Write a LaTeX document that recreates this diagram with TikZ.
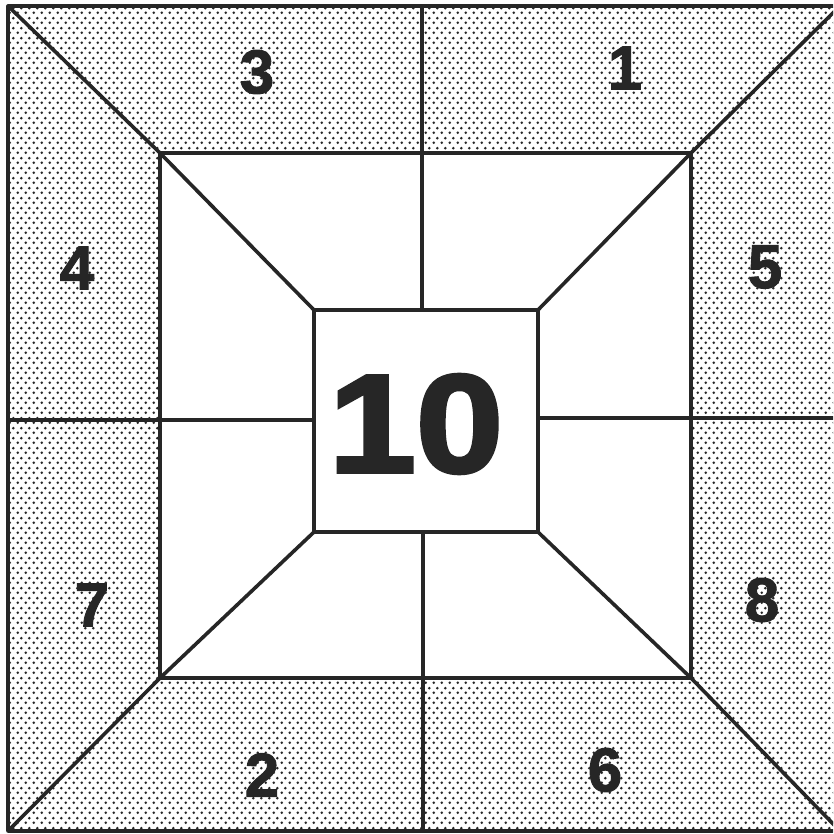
\documentclass[tikz,border=0pt]{standalone}
\usepackage{fontspec}
\setmainfont{Liberation Sans}
\newfontfamily\heavyfont[FakeBold=2.5]{Liberation Sans Bold}
\newfontfamily\medfont[FakeBold=1.5]{Liberation Sans Bold}
\usetikzlibrary{patterns}
\pgfdeclarepatternformonly{halftone}{\pgfpointorigin}{\pgfpoint{8pt}{10pt}}{\pgfpoint{8pt}{10pt}}{%
  \pgfpathcircle{\pgfpoint{2pt}{2.5pt}}{1.6pt}%
  \pgfpathcircle{\pgfpoint{6pt}{7.5pt}}{1.6pt}%
  \pgfusepath{fill}}
\definecolor{ink}{HTML}{262626}
\tikzset{
  edge/.style={draw=ink, line width=3.6pt, line cap=round, line join=round},
  num/.style={font=\medfont\fontsize{62}{62}\selectfont, text=ink, inner sep=0pt},
  big/.style={font=\heavyfont\fontsize{140}{140}\selectfont, text=ink, inner sep=0pt, xscale=1.12}
}
\begin{document}
\begin{tikzpicture}[x=1pt,y=-1pt]
\useasboundingbox (0,0) rectangle (833,834);
\begin{scope}
\clip (0,0) rectangle (833,834);
% outer corners
\coordinate (OTL) at (8,6);
\coordinate (OTR) at (840,6);
\coordinate (OBR) at (840,831);
\coordinate (OBL) at (8,831);
% middle corners
\coordinate (MTL) at (160,153);
\coordinate (MTR) at (691,153);
\coordinate (MBR) at (691,678);
\coordinate (MBL) at (160,678);
% inner corners
\coordinate (ITL) at (314,310);
\coordinate (ITR) at (538,310);
\coordinate (IBR) at (538,532);
\coordinate (IBL) at (314,532);
% axis points
\coordinate (VT) at (422,6);
\coordinate (VIT) at (422,310);
\coordinate (VIB) at (423,532);
\coordinate (VB) at (423,831);
\coordinate (HL) at (8,420);
\coordinate (HIL) at (314,420);
\coordinate (HIR) at (538,418);
\coordinate (HR) at (840,418);
% shaded band
\fill[pattern=halftone, pattern color=ink, even odd rule]
  (OTL) -- (OTR) -- (OBR) -- (OBL) -- cycle
  (MTL) -- (MTR) -- (MBR) -- (MBL) -- cycle;
% squares
\draw[edge] (OTL) -- (OTR) -- (OBR) -- (OBL) -- cycle;
\draw[edge] (MTL) -- (MTR) -- (MBR) -- (MBL) -- cycle;
\draw[edge] (ITL) -- (ITR) -- (IBR) -- (IBL) -- cycle;
% diagonals
\draw[edge] (OTL) -- (MTL) -- (ITL);
\draw[edge] (OTR) -- (MTR) -- (ITR);
\draw[edge] (OBR) -- (MBR) -- (IBR);
\draw[edge] (OBL) -- (MBL) -- (IBL);
% axes
\draw[edge] (VT) -- (VIT);
\draw[edge] (VIB) -- (VB);
\draw[edge] (HL) -- (HIL);
\draw[edge] (HIR) -- (HR);
\end{scope}
% labels
\node[num] (n3) at (257,72) {3};
\node[num] (n1) at (625,68) {1};
\node[num] (n4) at (77,268) {4};
\node[num] (n5) at (765,267) {5};
\node[num] (n7) at (92,605) {7};
\node[num] (n8) at (762,600) {8};
\node[num] (n2) at (262,775) {2};
\node[num] (n6) at (605,770) {6};
\node[big] (n10) at (416,424) {10};
\end{tikzpicture}
\end{document}
